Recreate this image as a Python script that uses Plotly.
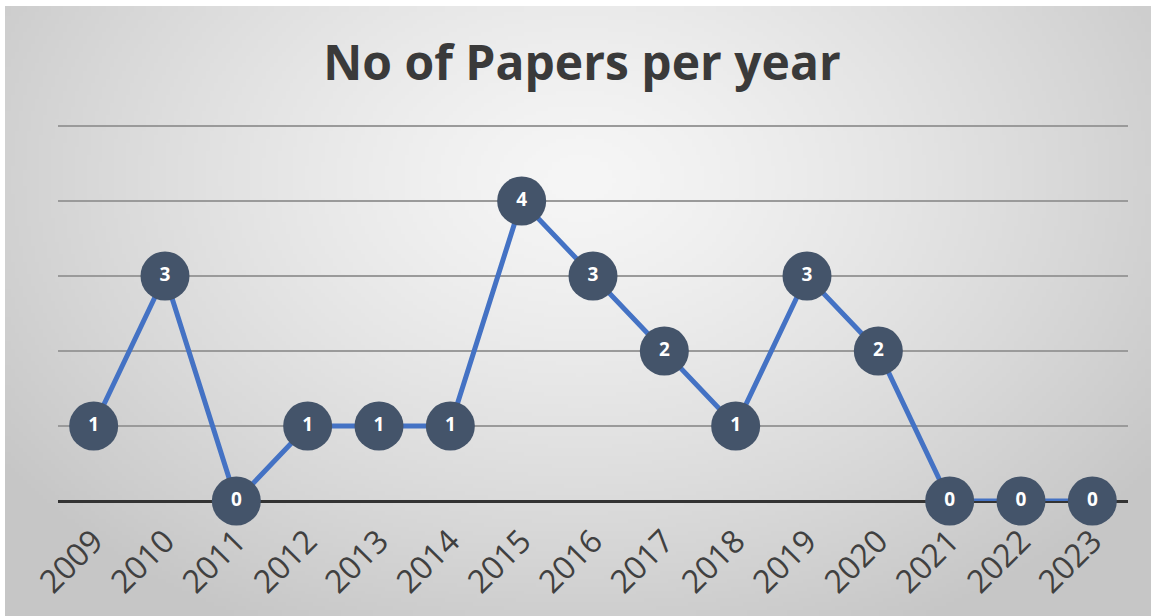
import base64, struct, zlib
import numpy as np
import plotly.graph_objects as go

years = ["2009", "2010", "2011", "2012", "2013", "2014", "2015", "2016",
         "2017", "2018", "2019", "2020", "2021", "2022", "2023"]
papers = [1, 3, 0, 1, 1, 1, 4, 3, 2, 1, 3, 2, 0, 0, 0]
title_text = "No of Papers per year"

W, H = 1151, 616
YMAX = 5.2
ML, MR, MB = 58, 23, 115
MT = int(round(H - MB - 75 * YMAX))


def gradient_png(w, h):
    yy, xx = np.mgrid[0:h, 0:w].astype(float)
    cx, cy = w * 0.5, h * 0.28
    r = np.sqrt(((xx - cx) / w) ** 2 + ((yy - cy) / h) ** 2 * 0.55)
    t = np.clip(r / 0.62, 0, 1)
    v = 246 - (246 - 198) * t ** 1.3
    img = np.repeat(v[:, :, None], 3, axis=2).astype(np.uint8)
    raw = b"".join(b"\x00" + img[i].tobytes() for i in range(h))

    def chunk(tag, data):
        c = struct.pack(">I", len(data)) + tag + data
        return c + struct.pack(">I", zlib.crc32(tag + data) & 0xFFFFFFFF)

    png = b"\x89PNG\r\n\x1a\n"
    png += chunk(b"IHDR", struct.pack(">IIBBBBB", w, h, 8, 2, 0, 0, 0))
    png += chunk(b"IDAT", zlib.compress(raw, 9))
    png += chunk(b"IEND", b"")
    return "data:image/png;base64," + base64.b64encode(png).decode()


pw = W - ML - MR
ph = H - MT - MB
bg_x0 = (5 - ML) / pw
bg_y1 = 1 + (MT - 6) / ph
bg_w = (W - 5) / pw
bg_h = (H - 6) / ph

fig = go.Figure()
fig.add_trace(go.Scatter(
    x=years, y=papers, mode="lines+markers+text",
    line=dict(color="#4472c4", width=5),
    marker=dict(size=49, color="#44546a", line=dict(width=0)),
    text=[str(v) for v in papers], textposition="middle center",
    textfont=dict(family="Open Sans", size=19, color="white", weight="bold"),
    cliponaxis=False, hoverinfo="x+y",
))

fig.update_layout(
    width=W, height=H,
    margin=dict(l=ML, r=MR, t=MT, b=MB),
    paper_bgcolor="white", plot_bgcolor="rgba(0,0,0,0)",
    showlegend=False,
    title=dict(text=title_text, x=582 / W, xanchor="center", y=1 - 63 / H, yanchor="middle",
               font=dict(family="Open Sans", size=48, color="#3a3a3a", weight="bold")),
    images=[dict(source=gradient_png(288, 154), xref="paper", yref="paper",
                 x=bg_x0, y=bg_y1, sizex=bg_w, sizey=bg_h, sizing="stretch",
                 xanchor="left", yanchor="top", layer="below")],
    xaxis=dict(type="category", range=[-0.5, len(years) - 0.5],
               showgrid=False, zeroline=False, showline=False,
               ticks="", tickangle=-45, ticklabelstandoff=14,
               tickfont=dict(family="Open Sans", size=32, color="#404040")),
    yaxis=dict(range=[0, YMAX], showticklabels=False, ticks="", showline=False,
               tick0=0, dtick=1, showgrid=True, gridcolor="#9a9a9a", gridwidth=1.5,
               zeroline=True, zerolinecolor="#333333", zerolinewidth=3),
)

fig.write_html("out.html", config={"displayModeBar": False},
               post_script="document.body.style.margin='0';")
